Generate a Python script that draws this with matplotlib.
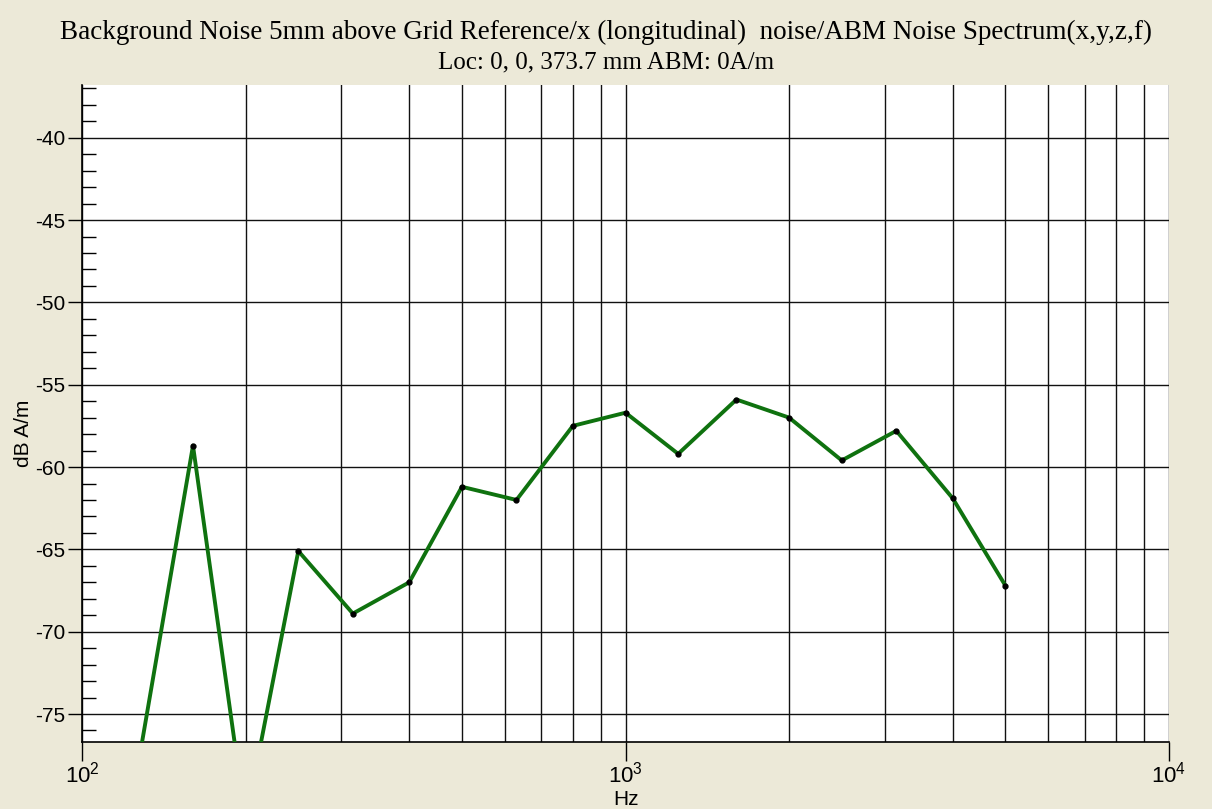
import matplotlib
matplotlib.use("Agg")
import matplotlib.pyplot as plt
from matplotlib.ticker import LogLocator, MultipleLocator, NullFormatter, FixedLocator

freqs = [125, 160, 200, 250, 315, 400, 500, 630, 800, 1000, 1250, 1600, 2000, 2500, 3150, 4000, 5000]
levels = [-79.3, -58.7, -81.5, -65.1, -68.9, -67.0, -61.2, -62.0, -57.5, -56.7, -59.2, -55.9, -57.0, -59.6, -57.8, -61.9, -67.2]
title1 = "Background Noise 5mm above Grid Reference/x (longitudinal)  noise/ABM Noise Spectrum(x,y,z,f)"
title2 = "Loc: 0, 0, 373.7 mm ABM: 0A/m"
xlabel = "Hz"
ylabel = "dB A/m"
yticks = [-40, -45, -50, -55, -60, -65, -70, -75]

bg = "#ECE9D8"
plt.rcParams['font.family'] = ['Liberation Sans', 'DejaVu Sans']
plt.rcParams['mathtext.fontset'] = 'custom'
plt.rcParams['mathtext.rm'] = 'Liberation Sans'
plt.rcParams['axes.unicode_minus'] = False

fig = plt.figure(figsize=(12.12, 8.09), dpi=100, facecolor=bg)
ax = fig.add_axes([0.0677, 0.0828, 0.8968, 0.8121])
ax.set_facecolor("white")

ax.plot(freqs, levels, color="#0f720f", lw=2.8, zorder=3)
ax.plot(freqs, levels, ls="none", marker="o", ms=3.5, color="black", zorder=4)

ax.set_xscale("log")
ax.set_xlim(100, 10000)
ax.set_ylim(-76.7, -36.8)

ax.xaxis.set_major_locator(LogLocator(base=10, numticks=10))
ax.xaxis.set_minor_locator(LogLocator(base=10, subs=[2, 3, 4, 5, 6, 7, 8, 9], numticks=10))
ax.xaxis.set_minor_formatter(NullFormatter())
ax.yaxis.set_major_locator(FixedLocator(yticks))
ax.yaxis.set_minor_locator(MultipleLocator(1))

ax.grid(True, which="major", axis="both", color="#111111", lw=1.0)
ax.grid(True, which="minor", axis="x", color="#111111", lw=1.0)

ax.tick_params(axis="x", which="major", direction="out", length=14, width=1, labelsize=16, pad=0)
ax.tick_params(axis="x", which="minor", length=0)
ax.tick_params(axis="y", which="major", direction="out", length=10, width=1, labelsize=15, pad=2)
ax.tick_params(axis="y", which="minor", direction="in", length=10, width=1)

for s in ["top", "right"]:
    ax.spines[s].set_visible(False)
for s in ["left", "bottom"]:
    ax.spines[s].set_linewidth(1.2)

ax.set_xlabel(xlabel, fontsize=15)
ax.xaxis.set_label_coords(0.5, -0.0735)
ax.set_ylabel(ylabel, fontsize=15)
ax.yaxis.set_label_coords(-0.045, 0.47)

fig.text(0.5, 0.960, title1, ha="center", va="center", fontsize=19.5, family=["Liberation Serif"])
fig.text(0.5, 0.923, title2, ha="center", va="center", fontsize=18, family=["Liberation Serif"])

fig.savefig("out.png", dpi=100, facecolor=bg)
